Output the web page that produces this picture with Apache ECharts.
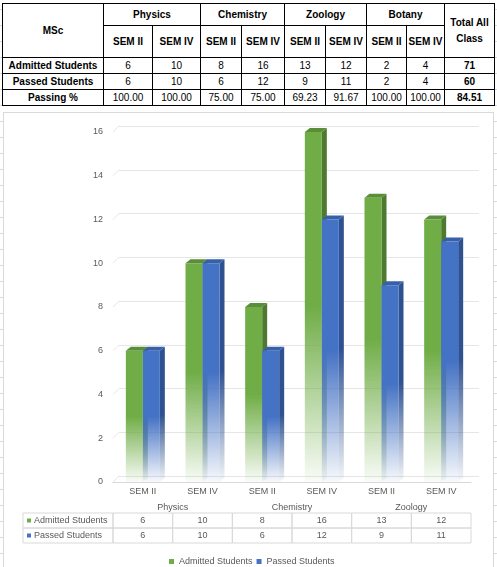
<!DOCTYPE html>
<html>
<head>
<meta charset="utf-8">
<script src="https://cdn.jsdelivr.net/npm/echarts@6/dist/echarts.min.js"></script>
<style>
  html, body { margin: 0; padding: 0; }
  body {
    width: 497px; height: 567px; position: relative; overflow: hidden;
    background: #fff repeating-linear-gradient(to bottom, transparent 0, transparent 9px, #dadada 9px, #dadada 10px, transparent 10px, transparent 16px);
  }
  #tbl {
    position: absolute; left: 2px; top: 3px; width: 492px;
    border-collapse: collapse; table-layout: fixed; background: #fff;
    font-family: 'Liberation Sans', Arial, sans-serif; font-size: 10px; color: #000;
  }
  #tbl td { border: 1px solid #000; text-align: center; padding: 0; line-height: 12px; }
  #tbl td.b { font-weight: bold; }
  #frame {
    position: absolute; left: 3px; top: 112px; width: 489px; height: 460px;
    border: 1px solid #d9d9d9; background: #fff;
  }
  #chart { position: absolute; left: 0; top: 0; width: 497px; height: 567px; }
</style>
</head>
<body>
<table id="tbl"></table>
<div id="frame"></div>
<div id="chart"></div>
<script>
// chart data
const categories = ['SEM II', 'SEM IV', 'SEM II', 'SEM IV', 'SEM II', 'SEM IV'];
const subjects = ['Physics', 'Chemistry', 'Zoology'];
const admitted = [6, 10, 8, 16, 13, 12];
const passed = [6, 10, 6, 12, 9, 11];
const yTicks = [0, 2, 4, 6, 8, 10, 12, 14, 16];

// summary table data
const tableSubjects = ['Physics', 'Chemistry', 'Zoology', 'Botany'];
const tableSems = ['SEM II', 'SEM IV'];
const tableAdmitted = [6, 10, 8, 16, 13, 12, 2, 4];
const tablePassed = [6, 10, 6, 12, 9, 11, 2, 4];
const tablePassing = ['100.00', '100.00', '75.00', '75.00', '69.23', '91.67', '100.00', '100.00'];
const totals = ['71', '60', '84.51'];

// build the summary table
const colW = [101, 49, 48, 41, 43, 41, 41, 40, 38, 50];
let html = '<colgroup>' + colW.map(w => '<col style="width:' + w + 'px">').join('') + '</colgroup>';
html += '<tr style="height:22px"><td rowspan="2" class="b">MSc</td>' +
  tableSubjects.map(s => '<td colspan="2" class="b">' + s + '</td>').join('') +
  '<td rowspan="2" class="b" style="line-height:16px">Total All<br>Class</td></tr>';
html += '<tr style="height:32px">' +
  tableSubjects.map(() => tableSems.map(s => '<td class="b">' + s + '</td>').join('')).join('') + '</tr>';
const bodyRows = [['Admitted Students', tableAdmitted], ['Passed Students', tablePassed], ['Passing %', tablePassing]];
bodyRows.forEach((r, k) => {
  html += '<tr style="height:16px"><td class="b">' + r[0] + '</td>' +
    r[1].map(v => '<td>' + v + '</td>').join('') +
    '<td class="b">' + totals[k] + '</td></tr>';
});
document.getElementById('tbl').innerHTML = html;

const FONT = "'Liberation Sans', Arial, sans-serif";
const TXT = '#595959';
const LINE = '#d9d9d9';
const DEPTH_X = 5, DEPTH_Y = 4;
const BAR_FRAC = 0.285;

function fade(c) {
  return new echarts.graphic.LinearGradient(0, 0, 0, 1, [
    { offset: 0, color: c },
    { offset: 0.5, color: c },
    { offset: 1, color: echarts.color.modifyAlpha(c, 0.04) }
  ]);
}

function bar3d(slot, front, side, top) {
  return function (params, api) {
    const i = api.value(0);
    const base = api.coord([i, 0]);
    const tip = api.coord([i, api.value(1)]);
    const w = api.size([1, 0])[0] * BAR_FRAC;
    const x0 = base[0] - w + slot * w, x1 = x0 + w;
    const yT = tip[1], yB = base[1];
    return {
      type: 'group',
      children: [
        { type: 'polygon', shape: { points: [[x1, yT], [x1 + DEPTH_X, yT - DEPTH_Y], [x1 + DEPTH_X, yB - DEPTH_Y], [x1, yB]] }, style: { fill: fade(side) } },
        { type: 'polygon', shape: { points: [[x0, yT], [x0 + DEPTH_X, yT - DEPTH_Y], [x1 + DEPTH_X, yT - DEPTH_Y], [x1, yT]] }, style: { fill: top } },
        { type: 'rect', shape: { x: x0, y: yT, width: w, height: yB - yT }, style: { fill: fade(front) } }
      ]
    };
  };
}

// data table below the plot
const ROW_TOP = 31, ROW_H = 15, LABEL_W = 90;
const rowNames = ['Admitted Students', 'Passed Students'];
const rowColors = ['#70AD47', '#4472C4'];
function tableItem(params, api) {
  const i = api.value(0);
  const c = api.coord([i, 0]);
  const band = api.size([1, 0])[0];
  const xl = c[0] - band / 2;
  const y0 = params.coordSys.y + params.coordSys.height;
  const vals = [admitted[i], passed[i]];
  const kids = [];
  vals.forEach((v, r) => {
    const y = y0 + ROW_TOP + r * ROW_H;
    kids.push({ type: 'rect', shape: { x: xl, y: y, width: band, height: ROW_H }, style: { fill: 'none', stroke: LINE, lineWidth: 1 } });
    kids.push({ type: 'text', style: { x: c[0], y: y + ROW_H / 2, text: String(v), fill: TXT, font: '9px ' + FONT, align: 'center', verticalAlign: 'middle' } });
    if (i === 0) {
      const lx = params.coordSys.x - LABEL_W;
      kids.push({ type: 'rect', shape: { x: lx, y: y, width: LABEL_W, height: ROW_H }, style: { fill: 'none', stroke: LINE, lineWidth: 1 } });
      kids.push({ type: 'rect', shape: { x: lx + 4, y: y + ROW_H / 2 - 2, width: 4, height: 4 }, style: { fill: rowColors[r] } });
      kids.push({ type: 'text', style: { x: lx + 11, y: y + ROW_H / 2, text: rowNames[r], fill: TXT, font: '9px ' + FONT, align: 'left', verticalAlign: 'middle' } });
    }
  });
  return { type: 'group', children: kids };
}

function wallDiag(params, api) {
  const p = api.coord([0, api.value(1)]);
  const x = params.coordSys.x;
  return { type: 'line', shape: { x1: x, y1: p[1], x2: x + 6, y2: p[1] - 6 }, style: { stroke: '#e6e6e6', lineWidth: 1 } };
}

const myChart = echarts.init(document.getElementById('chart'));
const option = {
  animation: false,
  textStyle: { fontFamily: FONT },
  grid: [
    { left: 113, top: 132, width: 358, height: 350 },
    { left: 119, top: 126, width: 360, height: 350 }
  ],
  xAxis: [
    {
      type: 'category', gridIndex: 0, data: categories, position: 'bottom',
      axisLine: { lineStyle: { color: LINE } },
      axisTick: { length: 15, lineStyle: { color: LINE } },
      axisLabel: { fontSize: 9, color: TXT, margin: 5 }
    },
    {
      type: 'category', gridIndex: 0, data: subjects, position: 'bottom', offset: 15,
      axisLine: { lineStyle: { color: LINE, opacity: 0 } },
      axisTick: { length: 15, lineStyle: { color: LINE } },
      axisLabel: { fontSize: 9, color: TXT, margin: 6 }
    },
    { type: 'category', gridIndex: 1, data: categories, show: false }
  ],
  yAxis: [
    {
      type: 'value', gridIndex: 0, min: 0, max: 16, interval: 2,
      axisLine: { show: false }, axisTick: { show: false }, splitLine: { show: false },
      axisLabel: { fontSize: 9, color: TXT, margin: 10 }
    },
    {
      type: 'value', gridIndex: 1, min: 0, max: 16, interval: 2,
      axisLine: { show: false }, axisTick: { show: false }, axisLabel: { show: false },
      splitLine: { lineStyle: { color: '#e6e6e6' } }
    }
  ],
  legend: {
    bottom: -4, left: 164, icon: 'rect', itemWidth: 5, itemHeight: 5, itemGap: 4,
    textStyle: { fontSize: 9, color: TXT },
    data: ['Admitted Students', 'Passed Students']
  },
  series: [
    {
      type: 'custom', name: 'wall', xAxisIndex: 0, yAxisIndex: 0, silent: true,
      data: yTicks.map(v => [0, v]), renderItem: wallDiag, clip: false, z: 1
    },
    {
      type: 'custom', name: 'Admitted Students', xAxisIndex: 0, yAxisIndex: 0,
      itemStyle: { color: '#70AD47' },
      data: admitted.map((v, i) => [i, v]),
      renderItem: bar3d(0, '#70AD47', '#4E7A30', '#5B8E3A'), clip: false, z: 2
    },
    {
      type: 'custom', name: 'Passed Students', xAxisIndex: 0, yAxisIndex: 0,
      itemStyle: { color: '#4472C4' },
      data: passed.map((v, i) => [i, v]),
      renderItem: bar3d(1, '#4472C4', '#2E5290', '#3660A8'), clip: false, z: 3
    },
    {
      type: 'custom', name: 'table', xAxisIndex: 0, yAxisIndex: 0, silent: true,
      data: categories.map((c, i) => [i, 0]), renderItem: tableItem, clip: false, z: 4
    }
  ]
};
myChart.setOption(option);
window.addEventListener('resize', function () {
  myChart.resize();
});
</script>
</body>
</html>
